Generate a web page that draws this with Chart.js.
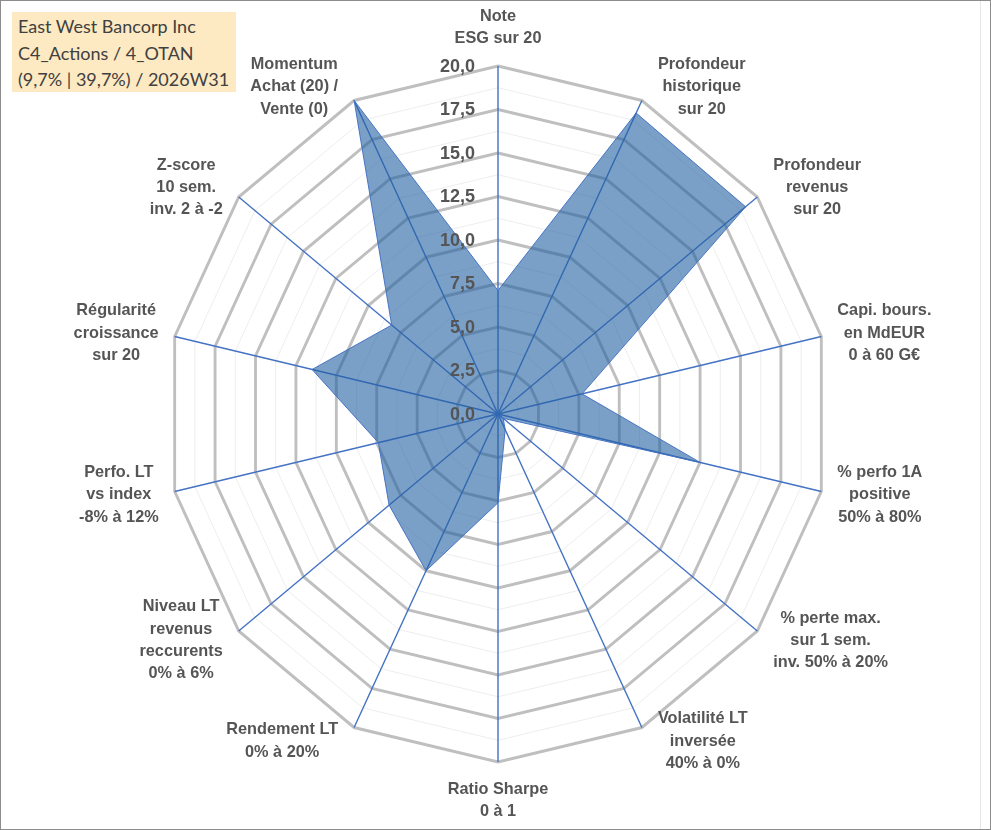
<!DOCTYPE html>
<html>
<head>
<meta charset="utf-8">
<script src="https://cdn.jsdelivr.net/npm/chart.js@4.4.3/dist/chart.umd.min.js"></script>
<style>
  html, body { margin: 0; padding: 0; background: #fff; }
  #frame {
    position: relative; width: 991px; height: 830px;
    box-sizing: border-box; border: 1px solid #8c8c8c; overflow: hidden;
  }
  #frame::after {
    content: ""; position: absolute; left: 979px; top: 0; width: 1px; height: 100%;
    background: #e6e6e6;
  }
  #radar { position: absolute; left: -1px; top: -1px; }
  #title {
    position: absolute; left: 11px; top: 11px; width: 224px; height: 80px;
    background: #fde9c2; color: #404040;
    font: 18px Lato, "Open Sans", sans-serif; line-height: 26.5px;
    padding: 1px 0 0 6px; box-sizing: border-box; white-space: nowrap;
  }
</style>
</head>
<body>
<div id="frame">
  <canvas id="radar" width="991" height="830"></canvas>
  <div id="title">East West Bancorp Inc<br>C4_Actions / 4_OTAN<br>(9,7% | 39,7%) / 2026W31</div>
</div>
<script>
// axis labels, clockwise from the top
const axisLabels = [
  ["Note", "ESG sur 20"],
  ["Profondeur", "historique", "sur 20"],
  ["Profondeur", "revenus", "sur 20"],
  ["Capi. bours.", "en MdEUR", "0 à 60 G€"],
  ["% perfo 1A", "positive", "50% à 80%"],
  ["% perte max.", "sur 1 sem.", "inv. 50% à 20%"],
  ["Volatilité LT", "inversée", "40% à 0%"],
  ["Ratio Sharpe", "0 à 1"],
  ["Rendement LT", "0% à 20%"],
  ["Niveau LT", "revenus", "reccurents", "0% à 6%"],
  ["Perfo. LT", "vs index", "-8% à 12%"],
  ["Régularité", "croissance", "sur 20"],
  ["Z-score", "10 sem.", "inv. 2 à -2"],
  ["Momentum", "Achat (20) /", "Vente (0)"]
];
// scores sur 20
const scores = [7.1, 19.2, 19.1, 5.2, 12.5, 0.4, 1.0, 5.1, 10.0, 8.4, 7.4, 11.5, 8.2, 20];
const tickValues = [0, 2.5, 5, 7.5, 10, 12.5, 15, 17.5, 20];

const SX = 0.953; // the original plot is a little narrower than tall
const labelColor = "#555555";
const labelFont = "bold 16.3px 'Liberation Sans', Arial, sans-serif";
const tickFont = "bold 18px 'Liberation Sans', Arial, sans-serif";

const squeeze = {
  id: "squeeze",
  beforeDraw(chart) {
    const s = chart.scales.r, ctx = chart.ctx;
    ctx.save();
    ctx.translate(s.xCenter, s.yCenter);
    ctx.scale(SX, 1);
    ctx.translate(-s.xCenter, -s.yCenter);
  },
  afterDatasetsDraw(chart) {
    chart.ctx.restore();
  }
};

const textLayer = {
  id: "textLayer",
  afterDraw(chart) {
    const s = chart.scales.r, ctx = chart.ctx;
    ctx.save();
    ctx.fillStyle = labelColor;
    ctx.textBaseline = "middle";

    // tick labels, right aligned left of the top spoke
    ctx.font = tickFont;
    ctx.textAlign = "right";
    tickValues.forEach(v => {
      const y = s.yCenter - s.getDistanceFromCenterForValue(v);
      ctx.fillText(v.toFixed(1).replace(".", ","), s.xCenter - 23, y + 1);
    });

    // axis labels outside the outer ring
    ctx.font = labelFont;
    ctx.textAlign = "center";
    const lh = 22.3, gap = 16;
    axisLabels.forEach((lines, i) => {
      const p = s.getPointPosition(i, s.drawingArea);
      const a = p.angle + Math.PI / 2;
      const sn = Math.sin(a), cs = Math.cos(a);
      const vx = s.xCenter + (p.x - s.xCenter) * SX;
      const vy = p.y;
      const w = Math.max(...lines.map(t => ctx.measureText(t).width));
      const h = lines.length * lh;
      let cx, cy;
      if (Math.abs(sn) < 0.01) {
        cx = vx;
        cy = vy - cs * (h / 2 + gap);
      } else {
        cx = vx + Math.sign(sn) * (w / 2 + gap);
        cy = vy - cs * 15;
      }
      lines.forEach((t, k) => {
        ctx.fillText(t, cx, cy - h / 2 + lh / 2 + k * lh);
      });
    });
    ctx.restore();
  }
};

new Chart(document.getElementById("radar"), {
  type: "radar",
  data: {
    labels: axisLabels,
    datasets: [{
      data: scores,
      backgroundColor: "rgba(35,97,163,0.6)",
      borderColor: "#4472c4",
      borderWidth: 1,
      pointRadius: 0,
      fill: true
    }]
  },
  options: {
    responsive: false,
    animation: false,
    layout: { padding: { left: 150, right: 144, top: 66, bottom: 67 } },
    plugins: { legend: { display: false }, tooltip: { enabled: false } },
    scales: {
      r: {
        min: 0,
        max: 20,
        ticks: { stepSize: 1.25, display: false },
        pointLabels: { display: false },
        angleLines: { color: "#4472c4", lineWidth: 1.5 },
        grid: {
          color: c => (c.tick.value % 2.5 === 0 ? "#bfbfbf" : "#ececec"),
          lineWidth: c => (c.tick.value % 2.5 === 0 ? 3 : 1)
        }
      }
    }
  },
  plugins: [squeeze, textLayer]
});
</script>
</body>
</html>
